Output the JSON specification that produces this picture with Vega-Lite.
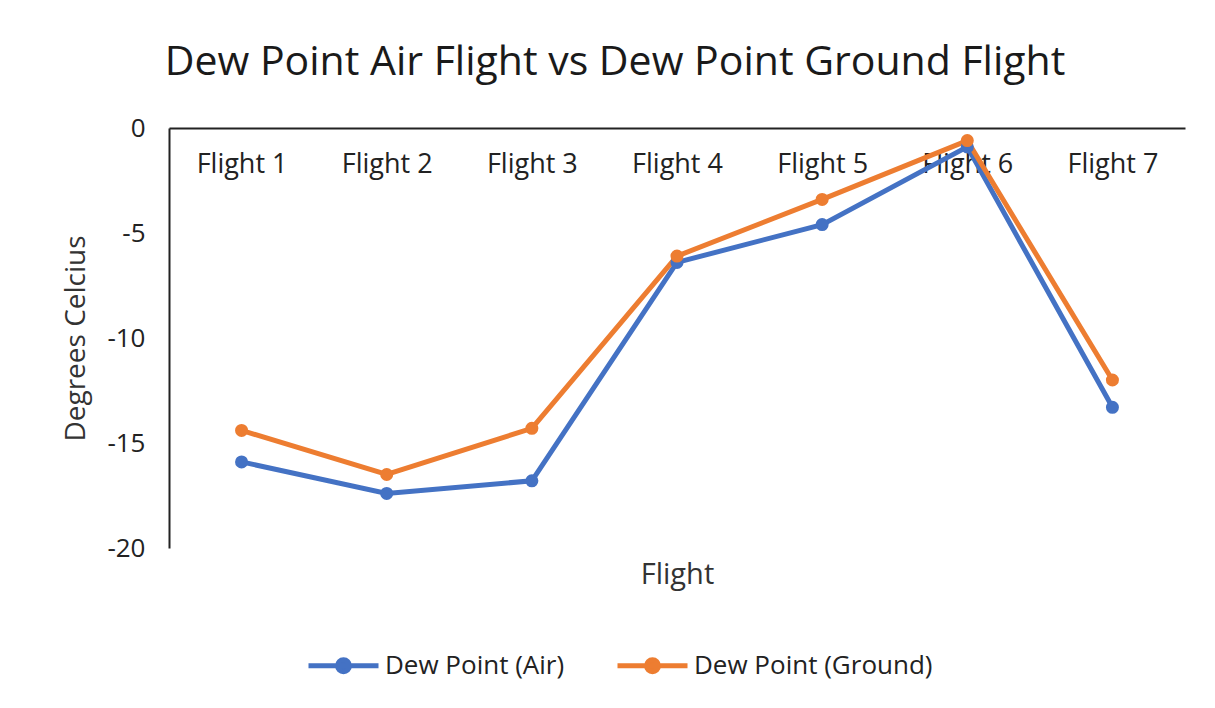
{
  "$schema": "https://vega.github.io/schema/vega-lite/v6.json",
  "autosize": "none",
  "width": 1016,
  "height": 420,
  "padding": {"left": 169, "top": 128, "right": 30, "bottom": 160},
  "background": "white",
  "title": {
    "text": "Dew Point Air Flight vs Dew Point Ground Flight",
    "fontSize": 41,
    "font": "Open Sans",
    "fontWeight": "normal",
    "color": "#1a1a1a",
    "anchor": "middle",
    "dx": -62,
    "baseline": "alphabetic",
    "offset": -1
  },
  "config": {
    "view": {"stroke": null},
    "font": "Open Sans"
  },
  "data": {
    "values": [
      {"flight": "Flight 1", "series": "Dew Point (Air)", "value": -15.9},
      {"flight": "Flight 2", "series": "Dew Point (Air)", "value": -17.4},
      {"flight": "Flight 3", "series": "Dew Point (Air)", "value": -16.8},
      {"flight": "Flight 4", "series": "Dew Point (Air)", "value": -6.4},
      {"flight": "Flight 5", "series": "Dew Point (Air)", "value": -4.6},
      {"flight": "Flight 6", "series": "Dew Point (Air)", "value": -0.9},
      {"flight": "Flight 7", "series": "Dew Point (Air)", "value": -13.3},
      {"flight": "Flight 1", "series": "Dew Point (Ground)", "value": -14.4},
      {"flight": "Flight 2", "series": "Dew Point (Ground)", "value": -16.5},
      {"flight": "Flight 3", "series": "Dew Point (Ground)", "value": -14.3},
      {"flight": "Flight 4", "series": "Dew Point (Ground)", "value": -6.1},
      {"flight": "Flight 5", "series": "Dew Point (Ground)", "value": -3.4},
      {"flight": "Flight 6", "series": "Dew Point (Ground)", "value": -0.6},
      {"flight": "Flight 7", "series": "Dew Point (Ground)", "value": -12.0}
    ]
  },
  "mark": {"type": "line", "strokeWidth": 5, "point": {"size": 170, "filled": true}},
  "encoding": {
    "x": {
      "field": "flight",
      "type": "ordinal",
      "scale": {"type": "point", "padding": 0.5},
      "axis": {
        "orient": "bottom",
        "offset": -420,
        "title": "Flight",
        "titleY": 432,
        "titleFontSize": 29,
        "titleFontWeight": "normal",
        "titleColor": "#333333",
        "labelAngle": 0,
        "labelFontSize": 27,
        "labelColor": "#222222",
        "labelPadding": 36,
        "labelBaseline": "middle",
        "ticks": false,
        "domainColor": "#222222",
        "domainWidth": 2,
        "grid": false
      }
    },
    "y": {
      "field": "value",
      "type": "quantitative",
      "scale": {"domain": [-20, 0], "nice": false},
      "axis": {
        "values": [0, -5, -10, -15, -20],
        "labelExpr": "toString(datum.value)",
        "title": "Degrees Celcius",
        "titleFontSize": 28,
        "titleFontWeight": "normal",
        "titleColor": "#333333",
        "titlePadding": 16,
        "labelFontSize": 26,
        "labelColor": "#222222",
        "labelPadding": 24,
        "ticks": false,
        "domainColor": "#222222",
        "domainWidth": 2,
        "grid": false
      }
    },
    "color": {
      "field": "series",
      "type": "nominal",
      "scale": {"domain": ["Dew Point (Air)", "Dew Point (Ground)"], "range": ["#4472C4", "#ED7D31"]},
      "legend": {
        "orient": "none",
        "direction": "horizontal",
        "legendX": 137,
        "legendY": 500,
        "title": null,
        "labelFontSize": 26,
        "labelColor": "#222222",
        "labelLimit": 400,
        "symbolType": "M-1,0L1,0M-0.17,0A0.17,0.17 0 1,1 0.17,0A0.17,0.17 0 1,1 -0.17,0",
        "symbolSize": 4900,
        "symbolStrokeWidth": 5,
        "labelOffset": 4,
        "columnPadding": 42
      }
    }
  }
}
